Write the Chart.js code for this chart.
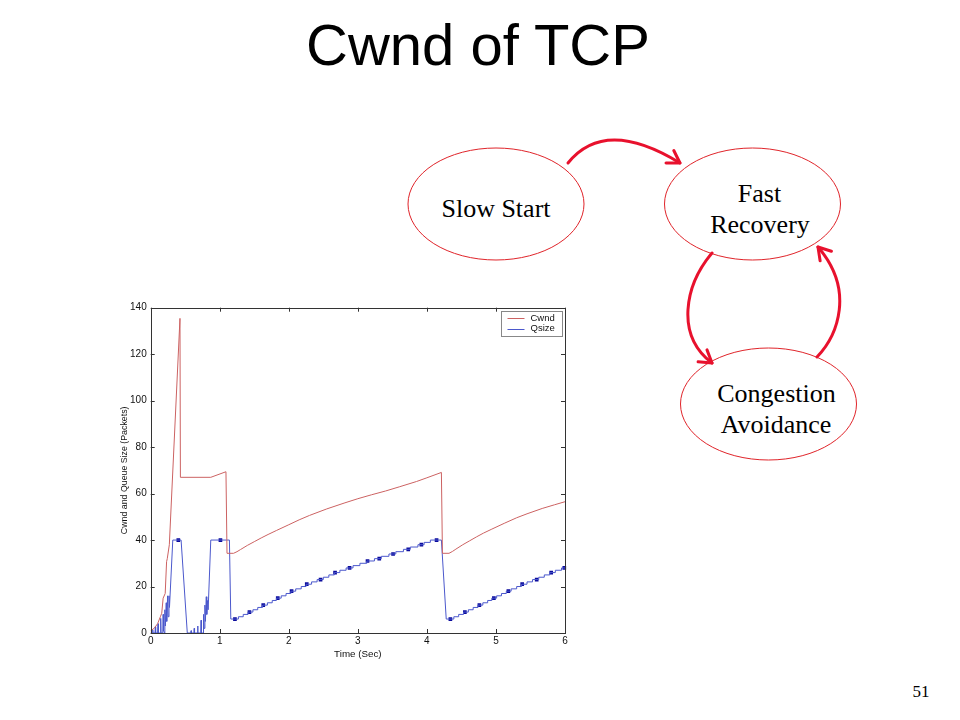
<!DOCTYPE html>
<html>
<head>
<meta charset="utf-8">
<title>Cwnd of TCP</title>
<script src="https://cdn.jsdelivr.net/npm/chart.js@4.4.1/dist/chart.umd.min.js"></script>
<style>
    html, body { margin: 0; padding: 0; background: #fff; }
    #slide { position: relative; width: 960px; height: 720px; overflow: hidden; }
    #diagram { position: absolute; left: 0; top: 0; }
    #cwnd-chart { position: absolute; left: 100px; top: 296px; }
</style>
</head>
<body>
<div id="slide">
<svg id="diagram" width="960" height="720" xmlns="http://www.w3.org/2000/svg">
    <text x="478" y="64.5" text-anchor="middle" font-family="'Liberation Sans', Arial, sans-serif" font-size="58" fill="#000">Cwnd of TCP</text>

    <g fill="none" stroke="#e0242a" stroke-width="1">
        <ellipse cx="496" cy="204" rx="88" ry="56"/>
        <ellipse cx="752.5" cy="204" rx="88" ry="56"/>
        <ellipse cx="768.5" cy="404" rx="88" ry="56"/>
    </g>

    <g fill="none" stroke="#e8112d" stroke-width="3" stroke-linecap="round" stroke-linejoin="round">
        <path d="M568,163 Q605,117 680,163"/>
        <polyline points="673.8,150.5 680,163 666,163.1"/>
        <path d="M712,253 C685,285 675,335 712,363"/>
        <polyline points="707,349.9 712,363 698.1,361.8"/>
        <path d="M817,357 C838,335 855,290 818,247"/>
        <polyline points="820.1,260.8 818,247 831.4,251.2"/>
    </g>

    <g font-family="'Liberation Serif', 'Times New Roman', serif" font-size="26" fill="#000" text-anchor="middle">
        <text x="496" y="217">Slow Start</text>
        <text x="759.5" y="201.5">Fast</text>
        <text x="760" y="233">Recovery</text>
        <text x="776.5" y="401.5">Congestion</text>
        <text x="776" y="433">Avoidance</text>
    </g>

    <text x="921" y="696.5" text-anchor="middle" font-family="'Liberation Serif', 'Times New Roman', serif" font-size="17" fill="#000">51</text>
</svg>
<canvas id="cwnd-chart" width="475" height="370"></canvas>
</div>

<script>
Chart.defaults.font.family = "'Liberation Sans', Arial, sans-serif";

// axis ticks
const xTicks = [0, 1, 2, 3, 4, 5, 6];
const yTicks = [0, 20, 40, 60, 80, 100, 120, 140];

// congestion window (packets) vs time (sec)
const cwndTime = [0, 0.05, 0.10, 0.14, 0.16, 0.18, 0.21, 0.23, 0.24, 0.27, 0.424, 0.43, 0.87, 1.09, 1.105,
    1.20, 1.25, 1.30, 1.40, 1.50, 1.60, 1.70, 1.82, 2.00, 2.15, 2.30, 2.55, 2.80, 3.00, 3.20, 3.40,
    3.60, 3.85, 4.00, 4.21, 4.225,
    4.32, 4.37, 4.42, 4.52, 4.62, 4.72, 4.82, 4.94, 5.12, 5.30, 5.45, 5.67, 5.85, 6.00];
const cwndValue = [1, 2, 4, 7, 8.5, 15, 17, 30.7, 32, 38, 135.4, 67, 67, 69.4, 34.3,
    34.3, 35.0, 35.9, 37.7, 39.3, 40.9, 42.4, 44.1, 46.6, 48.7, 50.6, 53.4, 55.9, 57.8, 59.5, 61.1,
    62.9, 65.2, 66.8, 69.1, 34.3,
    34.3, 35.1, 36.1, 38.0, 39.7, 41.4, 43.0, 44.7, 47.2, 49.6, 51.3, 53.6, 55.2, 56.5];

// queue size during slow start / fast recovery (spikes and ramps)
const qTime = [0, 0.025, 0.03, 0.035, 0.062, 0.067, 0.072, 0.10, 0.106, 0.112, 0.14, 0.145, 0.15,
    0.175, 0.18, 0.186, 0.20, 0.205, 0.212, 0.225, 0.232, 0.245, 0.252, 0.265, 0.272, 0.32, 0.44, 0.53,
    0.58, 0.585, 0.59, 0.625, 0.63, 0.635, 0.675, 0.68, 0.685, 0.725, 0.73, 0.735, 0.76, 0.765, 0.772,
    0.785, 0.792, 0.805, 0.812, 0.825, 0.832, 0.87, 1.14];
const qValue = [0, 0, 1.3, 0, 0, 2.7, 0, 0, 4, 0, 0, 6.3, 0,
    0, 8, 1, 0, 10, 3, 13, 5, 16, 7, 16, 11, 40, 40, 0,
    0, 1, 0, 0, 2, 0, 0, 3, 0, 0, 5.5, 0, 0, 8, 2,
    12, 5, 15.6, 8, 14, 10, 40, 40];

// queue size staircase in congestion avoidance: level and the time it starts
const stairTime1 = [1.16, 1.27, 1.34, 1.41, 1.48, 1.55, 1.62, 1.69, 1.76, 1.82, 1.89, 1.96, 2.03, 2.10,
    2.18, 2.25, 2.33, 2.41, 2.50, 2.58, 2.66, 2.74, 2.83, 2.93, 3.03, 3.13, 3.24, 3.34, 3.45, 3.55,
    3.66, 3.76, 3.87, 3.96, 4.05];
const stairLevel1 = [6, 7, 8, 9, 10, 11, 12, 13, 14, 15, 16, 17, 18, 19,
    20, 21, 22, 23, 24, 25, 26, 27, 28, 29, 30, 31, 32, 33, 34, 35,
    36, 37, 38, 39, 40];
const stairEnd1 = 4.21;
const stairTime2 = [4.28, 4.39, 4.46, 4.53, 4.60, 4.67, 4.74, 4.81, 4.88, 4.94, 5.01, 5.08, 5.15, 5.22,
    5.30, 5.37, 5.45, 5.53, 5.62, 5.70, 5.78, 5.86, 5.95];
const stairLevel2 = [6, 7, 8, 9, 10, 11, 12, 13, 14, 15, 16, 17, 18, 19,
    20, 21, 22, 23, 24, 25, 26, 27, 28];
const stairEnd2 = 6.0;

// square markers on the queue curve
const markTime = [0.40, 1.01, 1.22, 1.43, 1.63, 1.84, 2.04, 2.26, 2.46, 2.67, 2.88, 3.14, 3.31, 3.51,
    3.73, 3.92, 4.14, 4.34, 4.55, 4.76, 4.97, 5.18, 5.38, 5.59, 5.80, 5.99];
const markValue = [40, 40, 6, 9, 12, 15, 18, 21, 23, 26, 28, 31, 32, 34,
    36, 38, 40, 6, 9, 12, 15, 18, 21, 23, 26, 28];

function pairs(xs, ys) {
    return xs.map((x, i) => ({x: x, y: ys[i]}));
}

function stairPoints(times, levels, end) {
    const pts = [];
    times.forEach((t, i) => {
        const next = i + 1 < times.length ? times[i + 1] : end;
        pts.push({x: t, y: levels[i]}, {x: next, y: levels[i]});
    });
    return pts;
}

const qsizeData = pairs(qTime, qValue)
    .concat(stairPoints(stairTime1, stairLevel1, stairEnd1))
    .concat(stairPoints(stairTime2, stairLevel2, stairEnd2));

const axisColor = '#333';

// matlab style box, inward ticks on all four sides, legend inside the axes
const matlabAxes = {
    id: 'matlabAxes',
    afterDatasetsDraw(chart) {
        const ctx = chart.ctx;
        const a = chart.chartArea;
        const xs = chart.scales.x, ys = chart.scales.y;
        ctx.save();
        ctx.strokeStyle = axisColor;
        ctx.lineWidth = 1;
        ctx.strokeRect(Math.round(a.left) + 0.5, Math.round(a.top) + 0.5,
            Math.round(a.right - a.left), Math.round(a.bottom - a.top));
        ctx.beginPath();
        xTicks.forEach(v => {
            const px = Math.round(xs.getPixelForValue(v)) + 0.5;
            ctx.moveTo(px, a.bottom); ctx.lineTo(px, a.bottom - 4);
            ctx.moveTo(px, a.top); ctx.lineTo(px, a.top + 4);
        });
        yTicks.forEach(v => {
            const py = Math.round(ys.getPixelForValue(v)) + 0.5;
            ctx.moveTo(a.left, py); ctx.lineTo(a.left + 4, py);
            ctx.moveTo(a.right, py); ctx.lineTo(a.right - 4, py);
        });
        ctx.stroke();

        // legend box
        const lx = Math.round(a.right - 64) + 0.5, ly = Math.round(a.top + 3) + 0.5;
        const lw = 61, lh = 25;
        ctx.fillStyle = '#fff';
        ctx.fillRect(lx, ly, lw, lh);
        ctx.strokeStyle = '#888';
        ctx.strokeRect(lx, ly, lw, lh);
        ctx.font = "9.5px 'Liberation Sans', Arial, sans-serif";
        ctx.textBaseline = 'middle';
        ctx.fillStyle = '#111';
        [0, 1].forEach(i => {
            const ds = chart.data.datasets[i];
            const ry = ly + 6.5 + i * 10.5;
            ctx.strokeStyle = ds.borderColor;
            ctx.beginPath();
            ctx.moveTo(lx + 6, Math.round(ry) + 0.5);
            ctx.lineTo(lx + 23, Math.round(ry) + 0.5);
            ctx.stroke();
            ctx.fillText(ds.label, lx + 29, ry);
        });
        ctx.restore();
    }
};

new Chart(document.getElementById('cwnd-chart'), {
    type: 'line',
    data: {
        datasets: [{
            label: 'Cwnd',
            data: pairs(cwndTime, cwndValue),
            borderColor: '#cc6262',
            borderWidth: 1,
            pointRadius: 0,
            tension: 0,
            clip: 3
        }, {
            label: 'Qsize',
            data: qsizeData,
            borderColor: '#4b58cc',
            borderWidth: 1,
            pointRadius: 0,
            tension: 0,
            clip: 3
        }, {
            label: 'marks',
            data: pairs(markTime, markValue),
            showLine: false,
            pointStyle: 'rect',
            pointRadius: 2.6,
            pointBackgroundColor: '#0b0b9c',
            pointBorderColor: '#0b0b9c',
            pointBorderWidth: 0,
            clip: 3
        }]
    },
    options: {
        responsive: false,
        animation: false,
        devicePixelRatio: 1,
        layout: {
            padding: {top: 11.7, right: 10, left: 0, bottom: 0}
        },
        scales: {
            x: {
                type: 'linear',
                min: 0,
                max: 6,
                afterBuildTicks: scale => { scale.ticks = xTicks.map(v => ({value: v})); },
                afterFit: scale => { scale.height = 33; },
                grid: {display: false, drawTicks: false},
                border: {display: false},
                ticks: {
                    padding: 2,
                    color: '#111',
                    font: {size: 10},
                    maxRotation: 0
                },
                title: {
                    display: true,
                    text: 'Time (Sec)',
                    color: '#111',
                    font: {size: 9.8},
                    padding: {top: 0, bottom: 6}
                }
            },
            y: {
                min: 0,
                max: 140,
                afterBuildTicks: scale => { scale.ticks = yTicks.map(v => ({value: v})); },
                afterFit: scale => { scale.width = 50.7; },
                grid: {display: false, drawTicks: false},
                border: {display: false},
                ticks: {
                    padding: 4,
                    color: '#111',
                    font: {size: 10}
                },
                title: {
                    display: true,
                    text: 'Cwnd and Queue Size (Packets)',
                    color: '#111',
                    font: {size: 8.8},
                    padding: {top: 19, bottom: 0}
                }
            }
        },
        plugins: {
            legend: {display: false},
            tooltip: {enabled: false}
        }
    },
    plugins: [matlabAxes]
});
</script>
</body>
</html>
